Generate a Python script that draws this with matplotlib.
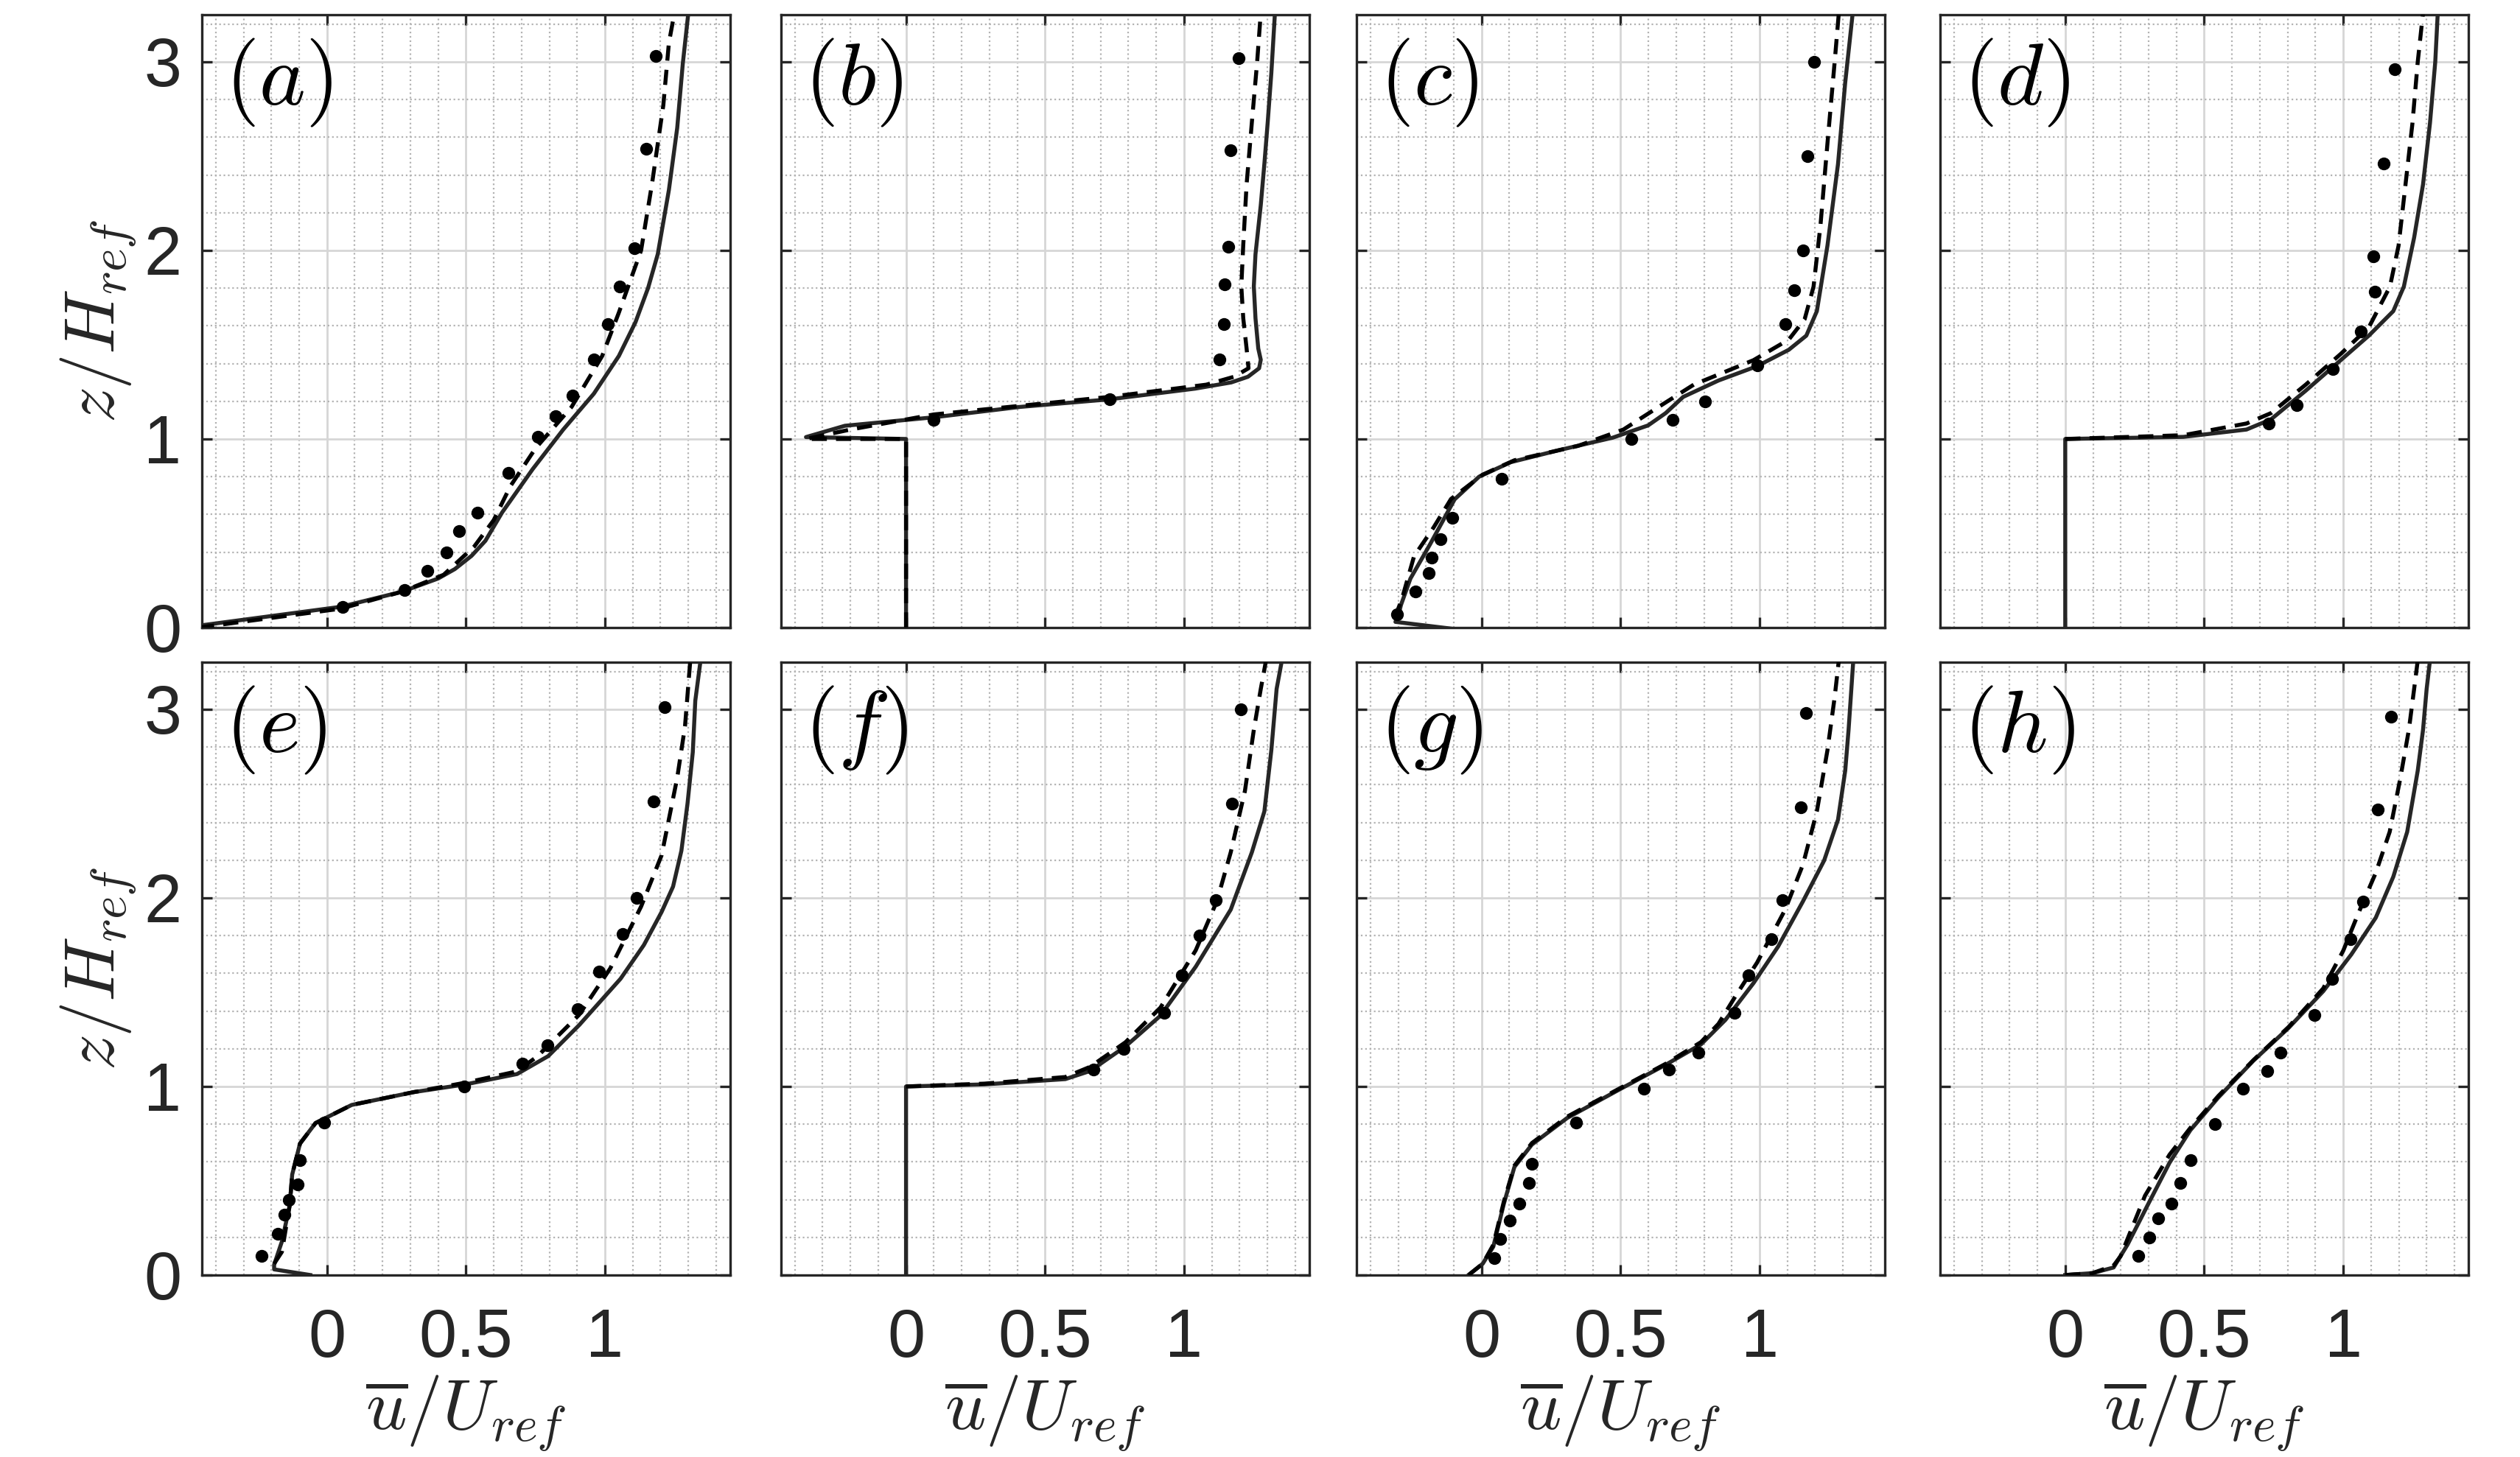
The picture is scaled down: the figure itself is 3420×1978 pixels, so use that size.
import matplotlib
matplotlib.use('Agg')
import matplotlib.pyplot as plt
from matplotlib.ticker import MultipleLocator, FixedLocator, FixedFormatter

plt.rcParams['font.family'] = ['Liberation Sans', 'DejaVu Sans']
plt.rcParams['mathtext.fontset'] = 'cm'

# ---- data (u/Uref, z/Href) ----
# (a)
a_les_u = [-0.46, 0.05, 0.27, 0.40, 0.46, 0.52, 0.57, 0.63, 0.74, 0.85, 0.96, 1.05, 1.11, 1.155, 1.19, 1.23, 1.26, 1.28, 1.30]
a_les_z = [0.01, 0.11, 0.19, 0.26, 0.31, 0.38, 0.46, 0.61, 0.84, 1.05, 1.24, 1.44, 1.62, 1.80, 1.98, 2.32, 2.65, 2.99, 3.26]
a_rans_u = [-0.46, 0.05, 0.27, 0.42, 0.53, 0.60, 0.66, 0.75, 0.88, 0.99, 1.05, 1.13, 1.17, 1.21, 1.23, 1.25]
a_rans_z = [0.00, 0.10, 0.19, 0.28, 0.43, 0.57, 0.75, 0.95, 1.17, 1.44, 1.67, 2.00, 2.36, 2.77, 3.10, 3.26]
a_exp_u = [0.056, 0.28, 0.362, 0.429, 0.474, 0.541, 0.653, 0.759, 0.823, 0.884, 0.961, 1.011, 1.054, 1.106, 1.149, 1.183]
a_exp_z = [0.11, 0.20, 0.30, 0.40, 0.51, 0.61, 0.82, 1.01, 1.12, 1.23, 1.42, 1.61, 1.81, 2.01, 2.54, 3.03]

# (b)
b_les_u = [0, 0, -0.36, -0.22, 0.10, 0.41, 0.73, 1.04, 1.17, 1.23, 1.27, 1.276, 1.267, 1.257, 1.251, 1.257, 1.276, 1.289, 1.301, 1.314, 1.327]
b_les_z = [0, 1.0, 1.01, 1.07, 1.115, 1.17, 1.21, 1.267, 1.30, 1.33, 1.375, 1.42, 1.48, 1.64, 1.81, 1.98, 2.24, 2.46, 2.68, 2.94, 3.26]
b_rans_u = [0, 0, -0.36, -0.20, 0.10, 0.73, 1.08, 1.18, 1.232, 1.225, 1.213, 1.206, 1.213, 1.225, 1.244, 1.263, 1.276]
b_rans_z = [0, 1.0, 1.0, 1.05, 1.13, 1.223, 1.288, 1.33, 1.375, 1.48, 1.64, 1.81, 2.03, 2.35, 2.68, 3.0, 3.26]
b_exp_u = [0.099, 0.732, 1.128, 1.143, 1.147, 1.158, 1.166, 1.196]
b_exp_z = [1.10, 1.21, 1.42, 1.61, 1.82, 2.02, 2.53, 3.02]

# (c)
c_les_u = [-0.03, -0.31, -0.30, -0.29, -0.256, -0.186, -0.097, -0.009, 0.105, 0.282, 0.472, 0.599, 0.662, 0.725, 0.852, 0.991, 1.105, 1.168, 1.206, 1.244, 1.282, 1.308, 1.335]
c_les_z = [-0.02, 0.03, 0.06, 0.12, 0.26, 0.44, 0.68, 0.80, 0.877, 0.942, 1.007, 1.072, 1.137, 1.223, 1.31, 1.386, 1.473, 1.548, 1.678, 2.025, 2.458, 2.891, 3.26]
c_rans_u = [-0.313, -0.287, -0.243, -0.173, -0.11, 0.004, 0.118, 0.346, 0.51, 0.624, 0.763, 0.978, 1.105, 1.162, 1.194, 1.219, 1.244, 1.27, 1.285]
c_rans_z = [0.05, 0.15, 0.378, 0.53, 0.682, 0.811, 0.887, 0.963, 1.05, 1.158, 1.288, 1.418, 1.527, 1.635, 1.808, 2.134, 2.567, 3.0, 3.26]
c_exp_u = [-0.303, -0.239, -0.189, -0.18, -0.148, -0.106, 0.071, 0.539, 0.687, 0.804, 0.991, 1.092, 1.124, 1.156, 1.172, 1.196]
c_exp_z = [0.07, 0.19, 0.29, 0.37, 0.47, 0.58, 0.79, 1.0, 1.1, 1.2, 1.39, 1.61, 1.79, 2.0, 2.5, 3.0]

# (d)
d_les_u = [0, 0, 0.425, 0.652, 0.74, 0.865, 0.991, 1.092, 1.18, 1.218, 1.255, 1.287, 1.312, 1.331, 1.34]
d_les_z = [0, 1.0, 1.011, 1.05, 1.104, 1.256, 1.418, 1.548, 1.678, 1.808, 2.068, 2.35, 2.675, 3.0, 3.26]
d_rans_u = [0, 0.425, 0.652, 0.74, 0.865, 0.991, 1.092, 1.168, 1.199, 1.224, 1.249, 1.268, 1.287]
d_rans_z = [1.0, 1.02, 1.082, 1.137, 1.288, 1.451, 1.592, 1.808, 2.025, 2.35, 2.675, 3.0, 3.26]
d_exp_u = [0.733, 0.834, 0.962, 1.063, 1.114, 1.108, 1.146, 1.186]
d_exp_z = [1.08, 1.18, 1.37, 1.57, 1.78, 1.97, 2.46, 2.96]

# (e)
e_les_u = [-0.06, -0.19, -0.19, -0.162, -0.134, -0.125, -0.097, -0.041, 0.089, 0.312, 0.498, 0.684, 0.796, 0.907, 1.056, 1.14, 1.204, 1.245, 1.275, 1.297, 1.316, 1.325, 1.344]
e_les_z = [0.0, 0.03, 0.055, 0.178, 0.369, 0.533, 0.697, 0.806, 0.902, 0.97, 1.011, 1.066, 1.161, 1.325, 1.571, 1.75, 1.926, 2.06, 2.25, 2.5, 2.773, 3.046, 3.26]
e_rans_u = [-0.19, -0.162, -0.134, -0.125, -0.097, -0.041, 0.089, 0.312, 0.498, 0.684, 0.758, 0.907, 1.019, 1.13, 1.204, 1.26, 1.288, 1.307]
e_rans_z = [0.06, 0.123, 0.369, 0.533, 0.697, 0.806, 0.902, 0.97, 1.02, 1.08, 1.161, 1.38, 1.626, 1.954, 2.227, 2.637, 2.91, 3.26]
e_exp_u = [-0.234, -0.178, -0.154, -0.136, -0.106, -0.097, -0.011, 0.494, 0.703, 0.792, 0.903, 0.978, 1.063, 1.113, 1.175, 1.216]
e_exp_z = [0.10, 0.22, 0.32, 0.40, 0.48, 0.61, 0.81, 1.0, 1.12, 1.22, 1.41, 1.61, 1.81, 2.0, 2.51, 3.01]

# (f)
f_les_u = [0, 0, 0.282, 0.573, 0.662, 0.789, 0.915, 1.042, 1.168, 1.244, 1.289, 1.314, 1.333, 1.352]
f_les_z = [0, 1.0, 1.011, 1.039, 1.082, 1.212, 1.375, 1.635, 1.938, 2.242, 2.459, 2.783, 3.108, 3.26]
f_rans_u = [0, 0.282, 0.573, 0.662, 0.789, 0.915, 1.042, 1.118, 1.168, 1.219, 1.251, 1.276, 1.295]
f_rans_z = [1.0, 1.015, 1.05, 1.104, 1.234, 1.418, 1.722, 1.982, 2.242, 2.567, 2.891, 3.108, 3.26]
f_exp_u = [0.675, 0.782, 0.928, 0.991, 1.057, 1.115, 1.172, 1.203]
f_exp_z = [1.09, 1.20, 1.39, 1.59, 1.80, 1.99, 2.50, 3.00]

# (g)
g_les_u = [-0.047, 0.004, 0.042, 0.08, 0.118, 0.181, 0.308, 0.497, 0.662, 0.789, 0.877, 0.978, 1.067, 1.156, 1.232, 1.282, 1.308, 1.32, 1.33, 1.337]
g_les_z = [0.0, 0.06, 0.15, 0.378, 0.573, 0.692, 0.833, 0.985, 1.115, 1.223, 1.353, 1.548, 1.743, 1.982, 2.198, 2.415, 2.675, 2.891, 3.108, 3.26]
g_rans_u = [-0.047, 0.004, 0.042, 0.08, 0.118, 0.181, 0.308, 0.497, 0.662, 0.789, 0.852, 0.915, 0.991, 1.092, 1.156, 1.206, 1.244, 1.27, 1.285]
g_rans_z = [0.0, 0.06, 0.16, 0.39, 0.58, 0.70, 0.84, 0.99, 1.12, 1.235, 1.332, 1.483, 1.657, 1.938, 2.177, 2.459, 2.783, 3.065, 3.26]
g_exp_u = [0.046, 0.067, 0.101, 0.137, 0.171, 0.181, 0.339, 0.584, 0.675, 0.78, 0.911, 0.959, 1.042, 1.082, 1.147, 1.168]
g_exp_z = [0.09, 0.19, 0.29, 0.38, 0.49, 0.59, 0.81, 0.99, 1.09, 1.18, 1.39, 1.59, 1.78, 1.99, 2.48, 2.98]

# (h)
h_les_u = [0.0, 0.098, 0.174, 0.224, 0.299, 0.375, 0.45, 0.551, 0.677, 0.803, 0.928, 1.029, 1.117, 1.18, 1.23, 1.268, 1.287, 1.3, 1.312]
h_les_z = [0.0, 0.01, 0.04, 0.161, 0.378, 0.595, 0.768, 0.942, 1.137, 1.31, 1.505, 1.7, 1.895, 2.112, 2.35, 2.675, 2.891, 3.108, 3.26]
h_rans_u = [0.0, 0.098, 0.174, 0.199, 0.287, 0.375, 0.45, 0.551, 0.677, 0.803, 0.928, 1.0, 1.054, 1.117, 1.167, 1.205, 1.236, 1.255, 1.268]
h_rans_z = [0.0, 0.01, 0.05, 0.10, 0.421, 0.638, 0.78, 0.95, 1.14, 1.315, 1.52, 1.72, 1.917, 2.133, 2.35, 2.632, 2.891, 3.108, 3.26]
h_exp_u = [0.262, 0.302, 0.335, 0.381, 0.413, 0.45, 0.538, 0.639, 0.727, 0.775, 0.897, 0.96, 1.026, 1.07, 1.123, 1.171]
h_exp_z = [0.10, 0.20, 0.30, 0.38, 0.49, 0.61, 0.80, 0.99, 1.08, 1.18, 1.38, 1.57, 1.78, 1.98, 2.47, 2.96]

tags = ['a', 'b', 'c', 'd', 'e', 'f', 'g', 'h']
x_ticks = [0, 0.5, 1]
x_ticklabels = ['0', '0.5', '1']
y_ticks = [0, 1, 2, 3]

panels = [
    (a_les_u, a_les_z, a_rans_u, a_rans_z, a_exp_u, a_exp_z),
    (b_les_u, b_les_z, b_rans_u, b_rans_z, b_exp_u, b_exp_z),
    (c_les_u, c_les_z, c_rans_u, c_rans_z, c_exp_u, c_exp_z),
    (d_les_u, d_les_z, d_rans_u, d_rans_z, d_exp_u, d_exp_z),
    (e_les_u, e_les_z, e_rans_u, e_rans_z, e_exp_u, e_exp_z),
    (f_les_u, f_les_z, f_rans_u, f_rans_z, f_exp_u, f_exp_z),
    (g_les_u, g_les_z, g_rans_u, g_rans_z, g_exp_u, g_exp_z),
    (h_les_u, h_les_z, h_rans_u, h_rans_z, h_exp_u, h_exp_z),
]

INK = '#262626'

fig = plt.figure(figsize=(34.2, 19.78), dpi=100)
lefts = [0.0801, 0.3099, 0.5383, 0.7699]
bottoms = [0.5693, 0.1249]
w, h = 0.2096, 0.4206

for i, (tag, data) in enumerate(zip(tags, panels)):
    su, sz, du, dz, pu, pz = data
    r, c = divmod(i, 4)
    ax = fig.add_axes([lefts[c], bottoms[r], w, h])

    ax.plot(su, sz, color=INK, lw=3.9, solid_joinstyle='round', zorder=3)
    ax.plot(du, dz, color='k', lw=3.9, ls=(0, (3.8, 2.3)), zorder=3)
    ax.plot(pu, pz, 'o', color='k', ms=12.5, mec='none', zorder=4)

    ax.set_xlim(-0.45, 1.45)
    ax.set_ylim(0, 3.25)
    ax.xaxis.set_major_locator(FixedLocator(x_ticks))
    ax.xaxis.set_major_formatter(FixedFormatter(x_ticklabels))
    ax.xaxis.set_minor_locator(MultipleLocator(0.1))
    ax.yaxis.set_major_locator(FixedLocator(y_ticks))
    ax.yaxis.set_minor_locator(MultipleLocator(0.2))

    ax.set_axisbelow(True)
    ax.grid(which='major', color='#d6d6d6', lw=2.0, ls='-')
    ax.grid(which='minor', color='#b3b3b3', lw=1.6, ls=':')

    ax.tick_params(which='major', direction='in', length=10, width=2.4,
                   top=True, right=True, labelsize=66, colors=INK,
                   labelcolor=INK)
    ax.tick_params(axis='x', which='major', pad=32)
    ax.tick_params(axis='y', which='major', pad=20)
    ax.tick_params(which='minor', length=0)
    for sp in ax.spines.values():
        sp.set_color(INK)
        sp.set_linewidth(2.4)

    if r == 0:
        ax.tick_params(labelbottom=False)
    else:
        ax.set_xlabel(r'$\overline{u}/U_{ref}$', fontsize=70, color=INK, labelpad=2)
    if c == 0:
        ax.set_ylabel(r'$z/H_{ref}$', fontsize=70, color=INK, labelpad=5)
    else:
        ax.tick_params(labelleft=False)

    ax.text(0.043, 0.965, '$(' + tag + ')$', transform=ax.transAxes,
            fontsize=86, ha='left', va='top', color='k')

fig.savefig('out.png', dpi=100)
